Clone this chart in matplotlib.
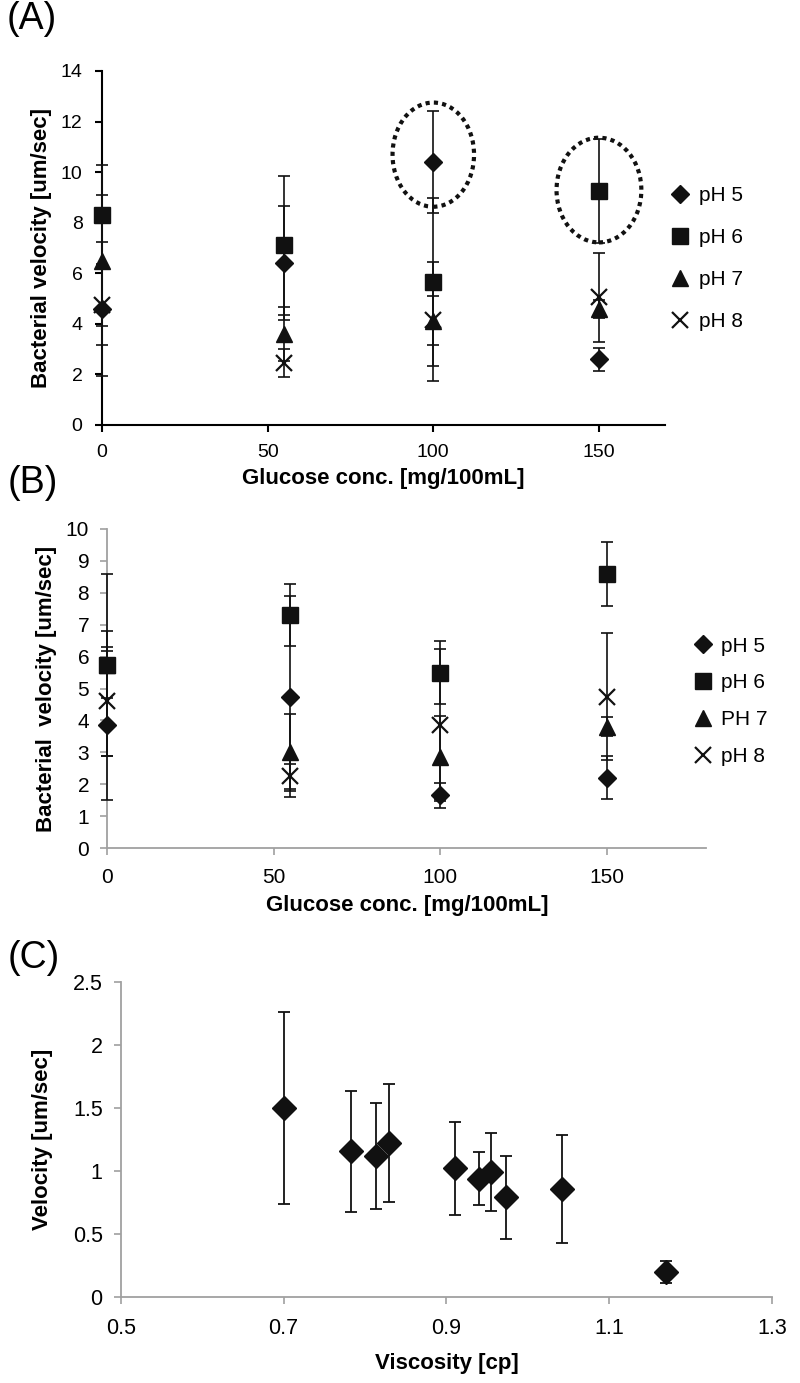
import numpy as np
import matplotlib.pyplot as plt
from matplotlib.patches import Ellipse

plt.rcParams['font.family'] = ['Liberation Sans', 'DejaVu Sans']

# (A) glucose series, values and std errors
glucose = [0, 55, 100, 150]
a_ph5 = [4.6, 6.4, 10.4, 2.6]
a_ph5_err = [2.65, 2.25, 2.0, 0.46]
a_ph6 = [8.3, 7.1, 5.65, 9.25]
a_ph6_err = [1.98, 2.75, 3.33, 2.05]
a_ph7 = [6.5, 3.6, 4.1, 4.6]
a_ph7_err = [2.6, 1.05, 2.35, 0.35]
a_ph8 = [4.75, 2.45, 4.15, 5.05]
a_ph8_err = [1.6, 0.55, 0.97, 1.77]

# (B)
b_ph5 = [3.85, 4.75, 1.65, 2.2]
b_ph5_err = [2.33, 3.15, 0.38, 0.67]
b_ph6 = [5.75, 7.3, 5.5, 8.6]
b_ph6_err = [2.85, 0.98, 1.0, 1.0]
b_ph7 = [5.75, 3.0, 2.85, 3.8]
b_ph7_err = [1.05, 1.2, 1.3, 0.3]
b_ph8 = [4.6, 2.25, 3.85, 4.75]
b_ph8_err = [1.7, 0.4, 2.38, 2.0]

# (C) viscosity vs velocity
viscosity = [0.70, 0.783, 0.813, 0.829, 0.91, 0.940, 0.955, 0.973, 1.042, 1.17]
velocity = [1.50, 1.155, 1.12, 1.22, 1.02, 0.94, 0.995, 0.79, 0.855, 0.195]
velocity_err = [0.765, 0.48, 0.42, 0.47, 0.37, 0.21, 0.31, 0.33, 0.43, 0.087]

# circled points in (A): (x, y, width, height)
circles = [(100, 10.69, 24.6, 4.12), (150, 9.29, 25.6, 4.14)]

fig = plt.figure(figsize=(8, 13.83), dpi=100)

axA = fig.add_axes([0.1275, 0.6927, 0.704, 0.256])
axB = fig.add_axes([0.134, 0.3868, 0.749, 0.2307])
axC = fig.add_axes([0.151, 0.0622, 0.814, 0.2278])

styles = [('D', 9, 'pH 5'), ('s', 12, 'pH 6'), ('^', 11, 'pH 7'), ('x', 11, 'pH 8')]


def draw_series(ax, vals, errs, labels, zorders):
    for (m, ms, _), v, e, lab, z in zip(styles, vals, errs, labels, zorders):
        ax.errorbar(glucose, v, yerr=e, fmt='none', ecolor='#111111',
                    elinewidth=1.2, capsize=4, capthick=1.2, zorder=z, clip_on=False)
        kw = dict(color='#111111', markersize=ms, linestyle='none',
                  zorder=z + 0.5, clip_on=False)
        if m == 'x':
            kw['markeredgewidth'] = 1.6
        ax.plot(glucose, v, marker=m, label=lab, **kw)


def grey_axes(ax):
    for s in ['top', 'right']:
        ax.spines[s].set_visible(False)
    for s in ['left', 'bottom']:
        ax.spines[s].set_color('#a0a0a0')
        ax.spines[s].set_linewidth(1.3)


# ---- (A)
draw_series(axA, [a_ph5, a_ph6, a_ph7, a_ph8],
            [a_ph5_err, a_ph6_err, a_ph7_err, a_ph8_err],
            ['pH 5', 'pH 6', 'pH 7', 'pH 8'], [3, 4, 5, 6])
for cx, cy, w, h in circles:
    axA.add_patch(Ellipse((cx, cy), w, h, fill=False, edgecolor='#111111',
                          linestyle=(0, (1, 1)), linewidth=3, zorder=8))
axA.set_xlim(0, 170)
axA.set_ylim(0, 14)
axA.set_xticks([0, 50, 100, 150])
axA.set_yticks(range(0, 15, 2))
for s in ['top', 'right']:
    axA.spines[s].set_visible(False)
for s in ['left', 'bottom']:
    axA.spines[s].set_linewidth(1.5)
axA.tick_params(direction='out', length=5, width=1.5, labelsize=14)
axA.tick_params(axis='y', pad=9)
axA.tick_params(axis='x', pad=9)
axA.set_xlabel('Glucose conc. [mg/100mL]', fontsize=16, fontweight='bold', labelpad=5)
axA.set_ylabel('Bacterial velocity [um/sec]', fontsize=16, fontweight='bold', labelpad=6)
axA.legend(loc='center left', bbox_to_anchor=(0.975, 0.47), frameon=False,
           fontsize=15, handlelength=1.0, handletextpad=0.4, labelspacing=1.1)

# ---- (B)
draw_series(axB, [b_ph5, b_ph6, b_ph7, b_ph8],
            [b_ph5_err, b_ph6_err, b_ph7_err, b_ph8_err],
            ['pH 5', 'pH 6', 'PH 7', 'pH 8'], [4, 5, 3, 6])
axB.set_xlim(0, 180)
axB.set_ylim(0, 10)
axB.set_xticks([0, 50, 100, 150])
axB.set_yticks(range(0, 11))
grey_axes(axB)
axB.tick_params(direction='out', length=5, width=1.2, color='#a0a0a0', labelsize=15)
axB.tick_params(axis='y', pad=8)
axB.tick_params(axis='x', pad=9)
axB.set_xlabel('Glucose conc. [mg/100mL]', fontsize=16, fontweight='bold', labelpad=6)
axB.set_ylabel('Bacterial  velocity [um/sec]', fontsize=16, fontweight='bold', labelpad=6)
axB.legend(loc='center left', bbox_to_anchor=(0.945, 0.46), frameon=False,
           fontsize=15, handlelength=1.0, handletextpad=0.4, labelspacing=0.85)

# ---- (C)
axC.errorbar(viscosity, velocity, yerr=velocity_err, fmt='D', color='#111111',
             markersize=12, elinewidth=1.3, capsize=4, capthick=1.3)
axC.set_xlim(0.5, 1.3)
axC.set_ylim(0, 2.5)
axC.set_xticks([0.5, 0.7, 0.9, 1.1, 1.3])
axC.set_xticklabels(['0.5', '0.7', '0.9', '1.1', '1.3'])
axC.set_yticks([0, 0.5, 1, 1.5, 2, 2.5])
axC.set_yticklabels(['0', '0.5', '1', '1.5', '2', '2.5'])
grey_axes(axC)
axC.tick_params(direction='out', length=5, width=1.2, color='#a0a0a0', labelsize=15.5)
axC.tick_params(axis='x', pad=10)
axC.tick_params(axis='y', pad=8)
axC.set_xlabel('Viscosity [cp]', fontsize=16, fontweight='bold', labelpad=10)
axC.set_ylabel('Velocity [um/sec]', fontsize=16, fontweight='bold', labelpad=14)

# panel letters
fig.text(0.008, 0.999, '(A)', fontsize=27, va='top')
fig.text(0.010, 0.664, '(B)', fontsize=27, va='top')
fig.text(0.010, 0.320, '(C)', fontsize=27, va='top')

fig.savefig('out.png', dpi=100)
